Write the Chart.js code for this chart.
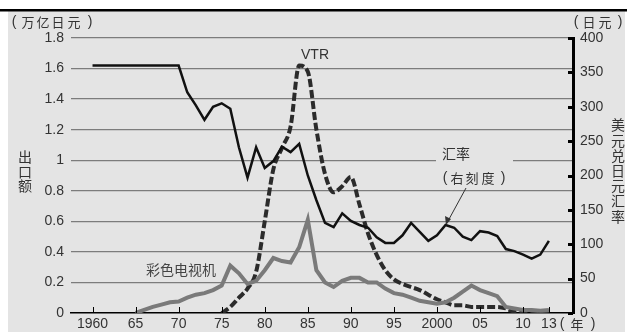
<!DOCTYPE html>
<html>
<head>
<meta charset="utf-8">
<script src="https://cdn.jsdelivr.net/npm/chart.js@4"></script>
<style>
  body { margin: 0; background: #fff; }
  canvas { display: block; }
</style>
</head>
<body>
<canvas id="chart" width="627" height="332"></canvas>
<script>
// x axis ticks and labels
const xTicks = [1960, 1965, 1970, 1975, 1980, 1985, 1990, 1995, 2000, 2005, 2010, 2013];
const xTickLabels = ["1960", "65", "70", "75", "80", "85", "90", "95", "2000", "05", "10", "13"];

// yen per dollar (right axis)
const rateYears = [1960, 1961, 1962, 1963, 1964, 1965, 1966, 1967, 1968, 1969, 1970,
  1971, 1972, 1973, 1974, 1975, 1976, 1977, 1978, 1979, 1980,
  1981, 1982, 1983, 1984, 1985, 1986, 1987, 1988, 1989, 1990,
  1991, 1992, 1993, 1994, 1995, 1996, 1997, 1998, 1999, 2000,
  2001, 2002, 2003, 2004, 2005, 2006, 2007, 2008, 2009, 2010,
  2011, 2012, 2013];
const rateValues = [360, 360, 360, 360, 360, 360, 360, 360, 360, 360, 360,
  321, 302, 281, 300, 305, 297, 241, 197, 241, 211,
  221, 242, 234, 246, 200, 164, 131, 125, 145, 134,
  128, 124, 110, 102, 102, 113, 131, 118, 105, 113,
  128, 124, 111, 106, 119, 117, 112, 93, 90, 85,
  79, 85, 105];

// VTR exports, trillion yen (left axis)
const vtrYears = [1975, 1976, 1977, 1978, 1979, 1980, 1981, 1982, 1983, 1984,
  1985, 1986, 1987, 1988, 1989, 1990, 1991, 1992, 1993, 1994,
  1995, 1996, 1997, 1998, 1999, 2000, 2001, 2002, 2003, 2004,
  2005, 2006, 2007, 2008, 2009, 2010, 2011, 2012, 2013];
const vtrValues = [0, 0.04, 0.1, 0.16, 0.27, 0.6, 0.94, 1.08, 1.22, 1.62,
  1.58, 1.2, 0.91, 0.79, 0.83, 0.89, 0.71, 0.52, 0.38, 0.28,
  0.22, 0.19, 0.17, 0.15, 0.12, 0.09, 0.07, 0.05, 0.05, 0.04,
  0.04, 0.04, 0.04, 0.03, 0.01, 0.01, 0.01, 0.01, 0.01];

// colour TV exports, trillion yen (left axis)
const tvYears = [1965, 1966, 1967, 1968, 1969, 1970, 1971, 1972, 1973, 1974,
  1975, 1976, 1977, 1978, 1979, 1980, 1981, 1982, 1983, 1984,
  1985, 1986, 1987, 1988, 1989, 1990, 1991, 1992, 1993, 1994,
  1995, 1996, 1997, 1998, 1999, 2000, 2001, 2002, 2003, 2004,
  2005, 2006, 2007, 2008, 2009, 2010, 2011, 2012, 2013];
const tvValues = [0, 0.02, 0.04, 0.055, 0.07, 0.075, 0.1, 0.12, 0.13, 0.15,
  0.18, 0.31, 0.26, 0.19, 0.21, 0.28, 0.36, 0.34, 0.33, 0.43,
  0.61, 0.28, 0.2, 0.17, 0.21, 0.23, 0.23, 0.2, 0.2, 0.16,
  0.13, 0.12, 0.1, 0.08, 0.07, 0.06, 0.07, 0.1, 0.14, 0.18,
  0.15, 0.13, 0.11, 0.04, 0.03, 0.02, 0.02, 0.015, 0.02];

const toPoints = (xs, ys) => xs.map((x, i) => ({ x: x, y: ys[i] }));

const latin = "'Liberation Sans', Arial, sans-serif";
const cjk = "'Noto Sans CJK SC', sans-serif";
const panelColor = "#e4e4e4";

// draws "( a b c )" with the characters spread out like the print original
function spaced(c, chars, xs, y) {
  chars.forEach((ch, i) => {
    c.font = (ch === "(" || ch === ")") ? "14px " + latin : "13px " + cjk;
    c.fillText(ch, xs[i], y);
  });
}

// background panel, texts, inward ticks
const decor = {
  id: "decor",
  beforeDraw(chart) {
    const c = chart.ctx;
    c.save();
    c.fillStyle = "#fff";
    c.fillRect(0, 0, chart.width, chart.height);
    c.fillStyle = panelColor;
    c.fillRect(8, 11, 617, 321);
    c.fillStyle = "#000";
    c.fillRect(0, 9, chart.width, 2.5);
    c.restore();
  },
  afterDatasetsDraw(chart) {
    const c = chart.ctx;
    const xs = chart.scales.x, yr = chart.scales.y1;
    c.save();
    // inward ticks on the right axis
    c.strokeStyle = "#000";
    c.lineWidth = 3;
    for (let v = 0; v <= 400; v += 50) {
      const y = Math.round(yr.getPixelForValue(v)) + 0.5;
      c.beginPath();
      c.moveTo(chart.chartArea.right - 5, y);
      c.lineTo(chart.chartArea.right, y);
      c.stroke();
    }
    // inward ticks on the x axis
    c.lineWidth = 1;
    xTicks.forEach(v => {
      const x = Math.round(xs.getPixelForValue(v)) + 0.5;
      c.beginPath();
      c.moveTo(x, chart.chartArea.bottom);
      c.lineTo(x, chart.chartArea.bottom - 6);
      c.stroke();
    });

    // labels inside the plot
    c.textBaseline = "middle";
    c.textAlign = "center";
    c.fillStyle = "#333";
    c.font = "14px " + latin;
    c.fillText("VTR", 315, 55);

    c.fillStyle = panelColor;
    c.fillRect(436, 146, 77, 20);
    c.fillStyle = "#333";
    c.font = "14px " + cjk;
    c.fillText("汇率", 456, 154);
    spaced(c, ["(", "右", "刻", "度", ")"], [445, 457, 472, 488, 503], 178);
    c.fillStyle = "#444";
    c.font = "14px " + cjk;
    c.fillText("彩色电视机", 181, 270);

    // pointer to the rate line
    c.strokeStyle = "#333";
    c.fillStyle = "#333";
    c.lineWidth = 1;
    c.beginPath();
    c.moveTo(466, 188);
    c.lineTo(448, 221);
    c.stroke();
    c.beginPath();
    c.moveTo(446, 225);
    c.lineTo(445, 216);
    c.lineTo(451, 219);
    c.closePath();
    c.fill();

    // unit labels
    c.fillStyle = "#333";
    spaced(c, ["(", "万", "亿", "日", "元", ")"], [14, 28, 43, 58, 74, 90], 22);
    spaced(c, ["(", "日", "元", ")"], [576, 589, 605, 620], 22);
    spaced(c, ["(", "年", ")"], [562, 577, 593], 324);

    // vertical axis titles
    c.font = "14px " + cjk;
    ["出", "口", "额"].forEach((ch, i) => c.fillText(ch, 25, 157 + i * 14.5));
    ["美", "元", "兑", "日", "元", "汇", "率"].forEach((ch, i) => c.fillText(ch, 618, 125 + i * 15.2));
    c.restore();
  }
};

new Chart("chart", {
  type: "line",
  data: {
    datasets: [
      {
        label: "汇率",
        data: toPoints(rateYears, rateValues),
        yAxisID: "y1",
        borderColor: "#111",
        borderWidth: 2.5,
        pointRadius: 0,
        tension: 0,
        order: 1
      },
      {
        label: "彩色电视机",
        data: toPoints(tvYears, tvValues),
        yAxisID: "y",
        borderColor: "#7a7a7a",
        borderWidth: 4,
        pointRadius: 0,
        tension: 0,
        order: 2
      },
      {
        label: "VTR",
        data: toPoints(vtrYears, vtrValues),
        yAxisID: "y",
        borderColor: "#2b2b2b",
        borderWidth: 4,
        borderDash: [8, 3],
        pointRadius: 0,
        cubicInterpolationMode: "monotone",
        order: 3
      }
    ]
  },
  options: {
    responsive: false,
    animation: false,
    layout: { padding: { top: 38, left: 0, right: 0, bottom: 0 } },
    plugins: {
      legend: { display: false },
      tooltip: { enabled: false }
    },
    scales: {
      x: {
        type: "linear",
        min: 1957.5,
        max: 2015.8,
        afterBuildTicks: s => { s.ticks = xTicks.map(v => ({ value: v })); },
        afterFit: s => { s.height = 19; },
        grid: { display: false, drawTicks: false },
        border: { display: true, color: "#000", width: 1.5 },
        ticks: {
          padding: 3,
          autoSkip: false,
          maxRotation: 0,
          color: "#333",
          font: { family: latin, size: 14 },
          callback: v => xTickLabels[xTicks.indexOf(v)]
        }
      },
      y: {
        position: "left",
        min: 0,
        max: 1.8,
        afterFit: s => { s.width = 71; },
        grid: {
          drawTicks: false,
          color: ctx => ctx.tick && ctx.tick.value === 0 ? "rgba(0,0,0,0)" : "#7c7c7c",
          lineWidth: 1.3
        },
        border: { display: false },
        ticks: {
          stepSize: 0.2,
          padding: 7,
          color: "#333",
          font: { family: latin, size: 14 },
          callback: v => String(Number(v.toFixed(1)))
        }
      },
      y1: {
        position: "right",
        min: 0,
        max: 400,
        afterFit: s => { s.width = 54; },
        grid: { display: false, drawTicks: false },
        border: { display: true, color: "#000", width: 3 },
        ticks: {
          stepSize: 50,
          padding: 7,
          color: "#333",
          font: { family: latin, size: 14 }
        }
      }
    }
  },
  plugins: [decor]
});
</script>
</body>
</html>
